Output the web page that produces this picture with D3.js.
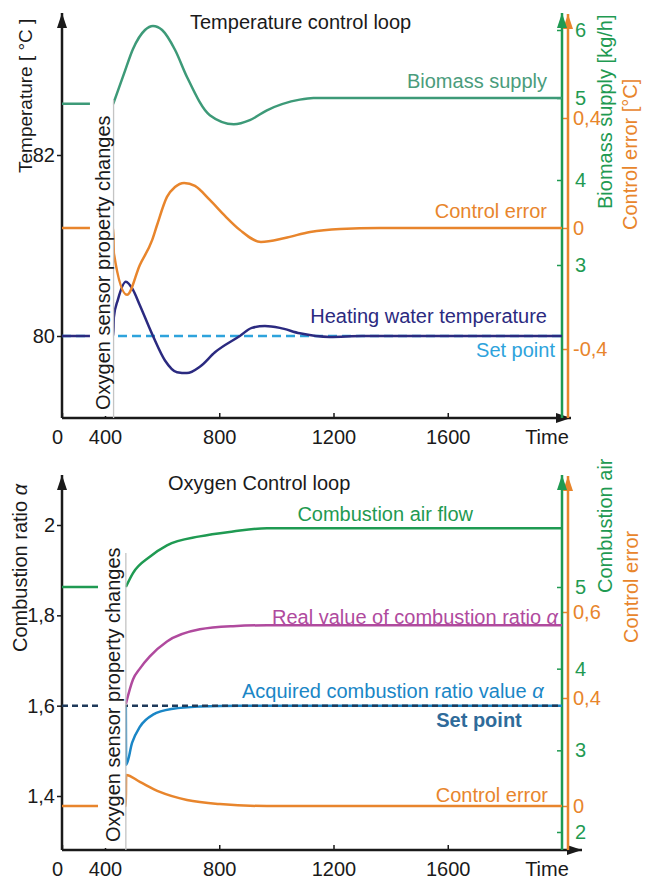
<!DOCTYPE html>
<html>
<head>
<meta charset="utf-8">
<script src="https://cdn.jsdelivr.net/npm/d3@7"></script>
<style>
  body { margin: 0; background: #fff; }
  svg text { font-family: "Liberation Sans", Arial, sans-serif; font-size: 20px; }
</style>
</head>
<body>
<div id="chart"></div>
<script>
// shared time axis
const timeTicks = [0, 400, 800, 1200, 1600]
const timeEnd = 2000

// ---- Temperature control loop ----
const tempTicks = [80, 82]
const biomassTicks = [3, 4, 5, 6]
const errTopTicks = [-0.4, 0, 0.4]
const changeTop = 430   // oxygen sensor property changes

const heatTime = [0, 429, 431, 445, 473, 498, 522, 568, 610, 652, 687, 732, 785, 872, 914, 960, 1012, 1082, 1187, 1300, 2000]
const heatVal  = [80, 80, 80.21, 80.40, 80.60, 80.51, 80.34, 80.0, 79.73, 79.60, 79.59, 79.66, 79.82, 80.0, 80.09, 80.11, 80.09, 80.03, 79.99, 80.0, 80.0]

const setTopTime = [0, 2000]
const setTopVal  = [80, 80]

const errTopTime = [0, 429, 431, 477, 522, 565, 582, 617, 645, 677, 715, 767, 820, 873, 946, 1030, 1118, 1223, 1360, 2000]
const errTopVal  = [0, 0, -0.083, -0.221, -0.122, -0.04, 0.01, 0.113, 0.149, 0.164, 0.153, 0.102, 0.044, -0.007, -0.046, -0.033, -0.013, -0.003, 0, 0]

const biomassTime = [0, 429, 431, 470, 498, 540, 568, 600, 645, 687, 767, 851, 907, 967, 1082, 1130, 2000]
const biomassVal  = [4.93, 4.93, 4.95, 5.40, 5.72, 6.0, 6.06, 6.0, 5.71, 5.31, 4.79, 4.68, 4.73, 4.85, 4.98, 5.0, 5.0]

// ---- Oxygen control loop ----
const alphaTicks = [1.4, 1.6, 1.8, 2]
const airTicks = [2, 3, 4, 5]
const errBotTicks = [0, 0.4, 0.6]
const changeBot = 473

// null = hidden behind the sensor note
const airTime = [0, 335, 400, 473, 498, 557, 617, 732, 848, 967, 2000]
const airVal  = [5.0, 5.0, null, 5.0, 5.17, 5.37, 5.51, 5.62, 5.68, 5.72, 5.72]

const realTime = [473, 498, 522, 557, 617, 732, 848, 967, 2000]
const realVal  = [1.604, 1.658, 1.682, 1.709, 1.742, 1.769, 1.776, 1.778, 1.778]

const acqTime = [473, 474, 495, 522, 568, 638, 732, 872, 2000]
const acqVal  = [1.6, 1.469, 1.518, 1.553, 1.58, 1.593, 1.598, 1.6, 1.6]

const setBotTime = [0, 2000]
const setBotVal  = [1.6, 1.6]

const errBotTime = [0, 473, 474, 522, 592, 687, 802, 967, 2000]
const errBotVal  = [0, 0, 0.115, 0.089, 0.052, 0.022, 0.007, 0, 0]

const green = "#1f9a52", orange = "#e8852c", black = "#1a1a1a"

const svg = d3.select("#chart").append("svg")
  .attr("width", 656)
  .attr("height", 881)

// arrow heads
const defs = svg.append("defs")
function marker(id, color) {
  defs.append("marker")
    .attr("id", id)
    .attr("viewBox", "0 0 10 10")
    .attr("refX", 10).attr("refY", 5)
    .attr("markerUnits", "userSpaceOnUse")
    .attr("markerWidth", 15).attr("markerHeight", 10)
    .attr("preserveAspectRatio", "none")
    .attr("orient", "auto")
    .append("path").attr("d", "M0,0L10,5L0,10Z").attr("fill", color)
}
marker("arBlack", black)
marker("arGreen", green)
marker("arOrange", orange)

// x scale has a break between 0 and 400
const x = d3.scaleLinear().domain([0, 400, timeEnd]).range([62, 105, 562])

const line = (sx, sy) => d3.line().curve(d3.curveMonotoneX)
  .defined(d => d[1] != null)
  .x(d => sx(d[0])).y(d => sy(d[1]))
const comma = d => String(d).replace(".", ",")

function vline(g, xp, y1, y2, color, mk) {
  g.append("line").attr("x1", xp).attr("x2", xp).attr("y1", y1).attr("y2", y2)
    .attr("stroke", color).attr("stroke-width", 2.5).attr("marker-end", "url(#" + mk + ")")
}

function styleAxis(a, color) {
  a.select(".domain").remove()
  a.attr("font-size", null).attr("font-family", null).style("color", color)
  a.selectAll(".tick line").attr("stroke-width", 1.5)
}

function frame(y0, yTop, xEnd, left, leftTicks, gScale, gTicks, oScale, oTicks) {
  const g = svg.append("g")
  // time axis
  g.append("g").attr("transform", "translate(0," + y0 + ")")
    .call(d3.axisBottom(x).tickValues(timeTicks).tickSize(-5).tickPadding(12).tickFormat(d3.format("d")))
    .call(a => styleAxis(a, black))
    .call(a => a.selectAll(".tick text").filter(d => d === 0).attr("dx", -5))
  g.append("line").attr("x1", 62).attr("x2", xEnd).attr("y1", y0).attr("y2", y0)
    .attr("stroke", black).attr("stroke-width", 2.5).attr("marker-end", "url(#arBlack)")
  g.append("text").attr("x", 547).attr("y", y0 + 26).attr("text-anchor", "middle").attr("fill", black).text("Time")
  // left axis
  g.append("g").attr("transform", "translate(62,0)")
    .call(d3.axisLeft(left).tickValues(leftTicks).tickSize(5).tickPadding(2).tickFormat(comma))
    .call(a => styleAxis(a, black))
  vline(g, 62, y0, yTop, black, "arBlack")
  // right axes
  g.append("g").attr("transform", "translate(562,0)")
    .call(d3.axisRight(gScale).tickValues(gTicks).tickSizeInner(-5).tickSizeOuter(0).tickPadding(13).tickFormat(comma))
    .call(a => styleAxis(a, green))
  g.append("g").attr("transform", "translate(568,0)")
    .call(d3.axisRight(oScale).tickValues(oTicks).tickSizeInner(-6).tickSizeOuter(0).tickPadding(5).tickFormat(comma))
    .call(a => styleAxis(a, orange))
  vline(g, 568, y0, yTop + 1, orange, "arOrange")
  vline(g, 562, y0, yTop, green, "arGreen")
  return g
}

function curve(g, times, vals, sx, sy, color, dash) {
  g.append("path")
    .datum(d3.zip(times, vals))
    .attr("fill", "none")
    .attr("stroke", color)
    .attr("stroke-width", 2.5)
    .attr("stroke-dasharray", dash || null)
    .attr("d", line(sx, sy))
}

function sensorNote(g, tStart, tChange, yBottom, yTop, baseX) {
  g.append("rect").attr("x", x(tStart)).attr("width", x(tChange) - x(tStart) - 0.6)
    .attr("y", yTop).attr("height", yBottom - yTop - 2).attr("fill", "#fff")
  g.append("line").attr("x1", x(tChange)).attr("x2", x(tChange)).attr("y1", yTop).attr("y2", yBottom)
    .attr("stroke", "#c4c4c4").attr("stroke-width", 1.3)
  g.append("text").attr("transform", "translate(" + baseX + "," + (yBottom - 8) + ") rotate(-90)")
    .attr("fill", black).text("Oxygen sensor property changes")
}

function label(g, xp, yp, txt, color, anchor, rot) {
  const t = g.append("text").attr("fill", color).attr("text-anchor", anchor || "start")
  if (rot) t.attr("transform", "translate(" + xp + "," + yp + ") rotate(-90)")
  else t.attr("x", xp).attr("y", yp)
  t.text(txt)
  return t
}

// ================= top panel =================
const yTemp = d3.scaleLinear().domain([80, 82]).range([336, 155])
const yBio = d3.scaleLinear().domain(biomassTicks).range([265, 180, 98, 30])
const yErrT = d3.scaleLinear().domain(errTopTicks).range([349, 228, 118])

const topG = frame(418, 13, 571, yTemp, tempTicks, yBio, biomassTicks, yErrT, errTopTicks)

curve(topG, setTopTime, setTopVal, x, yTemp, "#2ea3dc", "9,5")
curve(topG, heatTime, heatVal, x, yTemp, "#2b2a80")
curve(topG, errTopTime, errTopVal, x, yErrT, orange)
curve(topG, biomassTime, biomassVal, x, yBio, "#3d9a78")
sensorNote(topG, 260, changeTop, 418, 100, 110)

label(topG, 190, 29, "Temperature control loop", black)
label(topG, 547, 88, "Biomass supply", "#4a9c7c", "end")
label(topG, 547, 218, "Control error", orange, "end")
label(topG, 547, 323, "Heating water temperature", "#2b2a80", "end")
label(topG, 555, 357, "Set point", "#2ea3dc", "end")
label(topG, 32, 173, "Temperature [ °C ]", black, "start", true).style("font-size", "19px")
label(topG, 612, 209, "Biomass supply [kg/h]", green, "start", true)
label(topG, 637, 230, "Control error [°C]", orange, "start", true)

// ================= bottom panel =================
const yAlpha = d3.scaleLinear().domain([1.4, 2]).range([796, 525])
const yAir = d3.scaleLinear().domain([2, 5]).range([832, 587])
const yErrB = d3.scaleLinear().domain(errBotTicks).range([806, 698, 612])

const botG = frame(850, 475, 582, yAlpha, alphaTicks, yAir, airTicks, yErrB, errBotTicks)

curve(botG, acqTime, acqVal, x, yAlpha, "#1a86c6")
curve(botG, setBotTime, setBotVal, x, yAlpha, "#1f3a5a", "6,4")
curve(botG, realTime, realVal, x, yAlpha, "#b04a9e")
curve(botG, airTime, airVal, x, yAir, green)
curve(botG, errBotTime, errBotVal, x, yErrB, orange)
sensorNote(botG, 335, changeBot, 850, 553, 120)

label(botG, 168, 490, "Oxygen Control loop", black)
label(botG, 473, 521, "Combustion air flow", green, "end")
const rv = label(botG, 558, 624, "Real value of combustion ratio ", "#b04a9e", "end")
rv.append("tspan").style("font-style", "italic").text("α")
const av = label(botG, 242, 698, "Acquired combustion ratio value ", "#1a86c6")
av.append("tspan").style("font-style", "italic").text("α")
label(botG, 479, 727, "Set point", "#2f6b9a", "middle").style("font-weight", "bold")
label(botG, 548, 802, "Control error", orange, "end")
const ca = label(botG, 27, 652, "Combustion ratio ", black, "start", true)
ca.append("tspan").style("font-style", "italic").text("α")
label(botG, 612, 593, "Combustion air", green, "start", true)
label(botG, 638, 643, "Control error", orange, "start", true)
</script>
</body>
</html>
